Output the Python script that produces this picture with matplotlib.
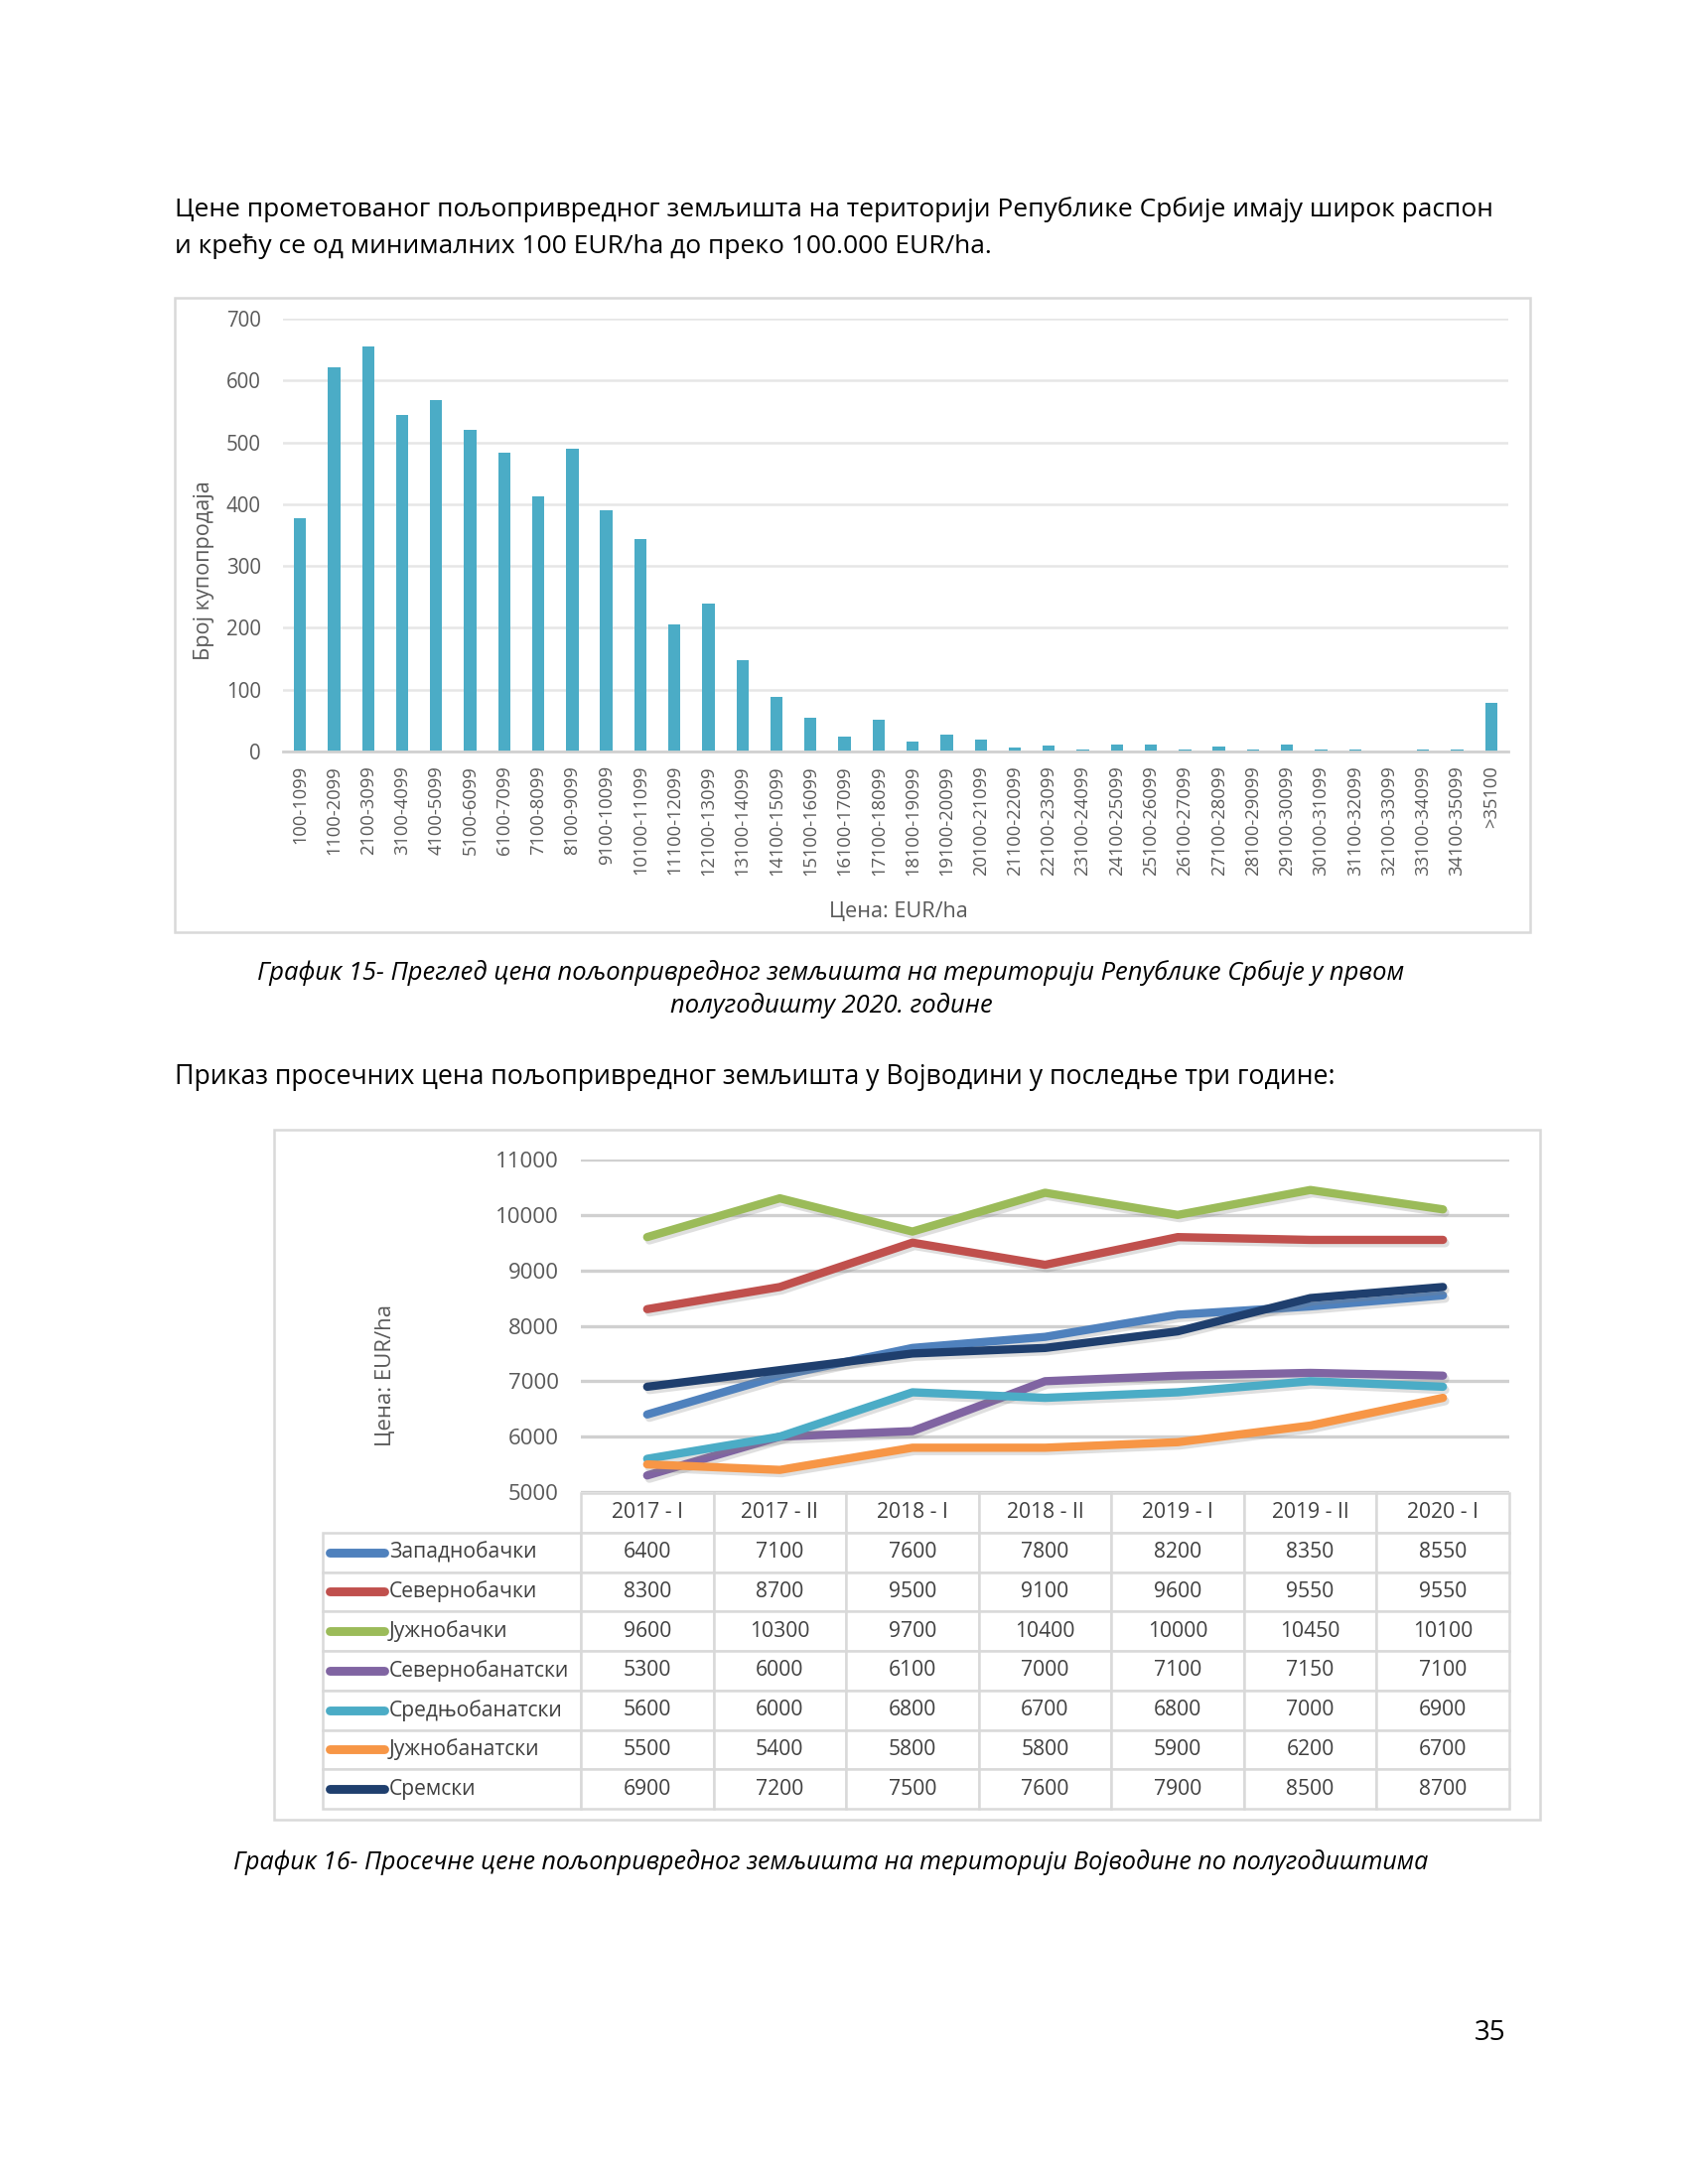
import matplotlib
matplotlib.use("Agg")
import matplotlib.pyplot as plt
import matplotlib.patheffects as pe
from matplotlib.patches import Rectangle

plt.rcParams["font.family"] = ["Open Sans", "DejaVu Sans"]

# --- data: chart 15 (number of sales per price class) ---
price_classes = [
    "100-1099", "1100-2099", "2100-3099", "3100-4099", "4100-5099", "5100-6099",
    "6100-7099", "7100-8099", "8100-9099", "9100-10099", "10100-11099",
    "11100-12099", "12100-13099", "13100-14099", "14100-15099", "15100-16099",
    "16100-17099", "17100-18099", "18100-19099", "19100-20099", "20100-21099",
    "21100-22099", "22100-23099", "23100-24099", "24100-25099", "25100-26099",
    "26100-27099", "27100-28099", "28100-29099", "29100-30099", "30100-31099",
    "31100-32099", "32100-33099", "33100-34099", "34100-35099", ">35100",
]
sales_count = [377, 622, 655, 544, 569, 520, 484, 413, 490, 390, 343,
               205, 239, 147, 88, 54, 24, 51, 16, 28, 20,
               7, 9, 4, 11, 11, 3, 8, 3, 11, 3,
               3, 0, 3, 3, 78]

# --- data: chart 16 (average prices in Vojvodina, EUR/ha) ---
periods = ["2017 - I", "2017 - II", "2018 - I", "2018 - II", "2019 - I", "2019 - II", "2020 - I"]
districts = ["Западнобачки", "Севернобачки", "Јужнобачки", "Севернобанатски",
             "Средњобанатски", "Јужнобанатски", "Сремски"]
zapadnobacki = [6400, 7100, 7600, 7800, 8200, 8350, 8550]
severnobacki = [8300, 8700, 9500, 9100, 9600, 9550, 9550]
juznobacki = [9600, 10300, 9700, 10400, 10000, 10450, 10100]
severnobanatski = [5300, 6000, 6100, 7000, 7100, 7150, 7100]
srednjobanatski = [5600, 6000, 6800, 6700, 6800, 7000, 6900]
juznobanatski = [5500, 5400, 5800, 5800, 5900, 6200, 6700]
sremski = [6900, 7200, 7500, 7600, 7900, 8500, 8700]
series = [zapadnobacki, severnobacki, juznobacki, severnobanatski,
          srednjobanatski, juznobanatski, sremski]
colors = ["#4F81BD", "#C0504D", "#9BBB59", "#8064A2", "#4BACC6", "#F79646", "#1F3F6E"]

W, H = 1700, 2200
fig = plt.figure(figsize=(8.5, 11), dpi=200)


def fx(x):
    return x / W


def fy(y):
    return 1 - y / H


def box(x0, y0, x1, y1):
    fig.add_artist(Rectangle((fx(x0), fy(y1)), fx(x1 - x0), (y1 - y0) / H,
                             transform=fig.transFigure, fill=False,
                             edgecolor="#D9D9D9", linewidth=0.9))


grey = "#595959"

# page text
fig.text(fx(176), fy(211), "Цене прометованог пољопривредног земљишта на територији Републике Србије имају широк распон",
         fontsize=9.5, va="center", ha="left")
fig.text(fx(176), fy(248), "и крећу се од минималних 100 EUR/ha до преко 100.000 EUR/ha.",
         fontsize=9.5, va="center", ha="left")

# chart 15
box(176, 300, 1541, 939)
ax1 = fig.add_axes([fx(285), fy(757), fx(1519 - 285), (757 - 321) / H])
x1 = range(len(price_classes))
ax1.bar(x1, sales_count, width=0.36, color="#4BACC6", zorder=3)
ax1.set_xlim(-0.5, len(price_classes) - 0.5)
ax1.set_ylim(0, 700)
ax1.set_yticks(range(0, 701, 100))
ax1.set_xticks(list(x1))
ax1.set_xticklabels(price_classes, rotation=90, fontsize=6.6, color=grey)
ax1.tick_params(axis="y", labelsize=7.4, labelcolor=grey, length=0, pad=8)
ax1.tick_params(axis="x", length=0, pad=5)
ax1.grid(axis="y", color="#E6E6E6", linewidth=0.9, zorder=0)
for s in ["top", "right", "left"]:
    ax1.spines[s].set_visible(False)
ax1.spines["bottom"].set_color("#D0D0D0")
ax1.spines["bottom"].set_linewidth(1.0)
ax1.spines["bottom"].set_zorder(4)
fig.text(fx(206), fy(575), "Број купопродаја", rotation=90, fontsize=7.8,
         color=grey, va="center", ha="center")
fig.text(fx(905), fy(918), "Цена: EUR/ha", fontsize=7.8, color=grey,
         va="center", ha="center")

fig.text(fx(837), fy(980), "График 15- Преглед цена пољопривредног земљишта на територији Републике Србије у првом",
         fontsize=9.2, style="italic", va="center", ha="center")
fig.text(fx(837), fy(1013), "полугодишту 2020. године",
         fontsize=9.2, style="italic", va="center", ha="center")

fig.text(fx(176), fy(1085), "Приказ просечних цена пољопривредног земљишта у Војводини у последње три године:",
         fontsize=9.6, va="center", ha="left")

# chart 16
box(276, 1138, 1551, 1833)
ax2 = fig.add_axes([fx(585), fy(1503), fx(1520 - 585), (1503 - 1168) / H])
xs = range(len(periods))
shadow = [pe.SimpleLineShadow(offset=(0.8, -1.2), alpha=0.25, shadow_color="#808080"), pe.Normal()]
for vals, c in zip(series, colors):
    ax2.plot(xs, vals, color=c, linewidth=3.0, solid_capstyle="round",
             solid_joinstyle="round", zorder=3, path_effects=shadow)
ax2.set_xlim(-0.5, len(periods) - 0.5)
ax2.set_ylim(5000, 11000)
ax2.set_yticks(range(5000, 11001, 1000))
ax2.set_xticks([])
ax2.tick_params(axis="y", labelsize=8, labelcolor=grey, length=0, pad=8)
ax2.grid(axis="y", color="#D0D0D0", linewidth=1.2, zorder=0)
for s in ["top", "right", "left", "bottom"]:
    ax2.spines[s].set_visible(False)
fig.text(fx(388), fy(1385), "Цена: EUR/ha", rotation=90, fontsize=8,
         color=grey, va="center", ha="center")

# data table under chart 16
axt = fig.add_axes([fx(325), fy(1822), fx(1520 - 325), (1822 - 1504) / H])
axt.axis("off")
axt.set_xlim(0, 1)
axt.set_ylim(0, 1)
label_w = 260 / 1195
col_w = (1 - label_w) / len(periods)
cell_text = [[""] + periods] + [[""] + [str(v) for v in vals] for vals in series]
tbl = axt.table(cellText=cell_text, colWidths=[label_w] + [col_w] * len(periods),
                cellLoc="center", bbox=[0, 0, 1, 1])
tbl.auto_set_font_size(False)
tbl.set_fontsize(7.6)
for (r, c), cell in tbl.get_celld().items():
    cell.set_edgecolor("#D9D9D9")
    cell.set_linewidth(0.9)
    cell.get_text().set_color("#404040")
    if r == 0 and c == 0:
        cell.visible_edges = ""
n_rows = len(series) + 1
for i, (name, c) in enumerate(zip(districts, colors)):
    yc = 1 - (i + 1.5) / n_rows
    axt.plot([0.006, 0.052], [yc, yc], color=c, linewidth=3.2,
             solid_capstyle="round", clip_on=False)
    axt.text(0.056, yc, name, fontsize=7.6, color="#404040", va="center", ha="left")

fig.text(fx(837), fy(1876), "График 16- Просечне цене пољопривредног земљишта на територији Војводине по полугодиштима",
         fontsize=9.0, style="italic", va="center", ha="center")

fig.text(fx(1501), fy(2048), "35", fontsize=10, va="center", ha="center")

fig.savefig("out.png", dpi=200)
